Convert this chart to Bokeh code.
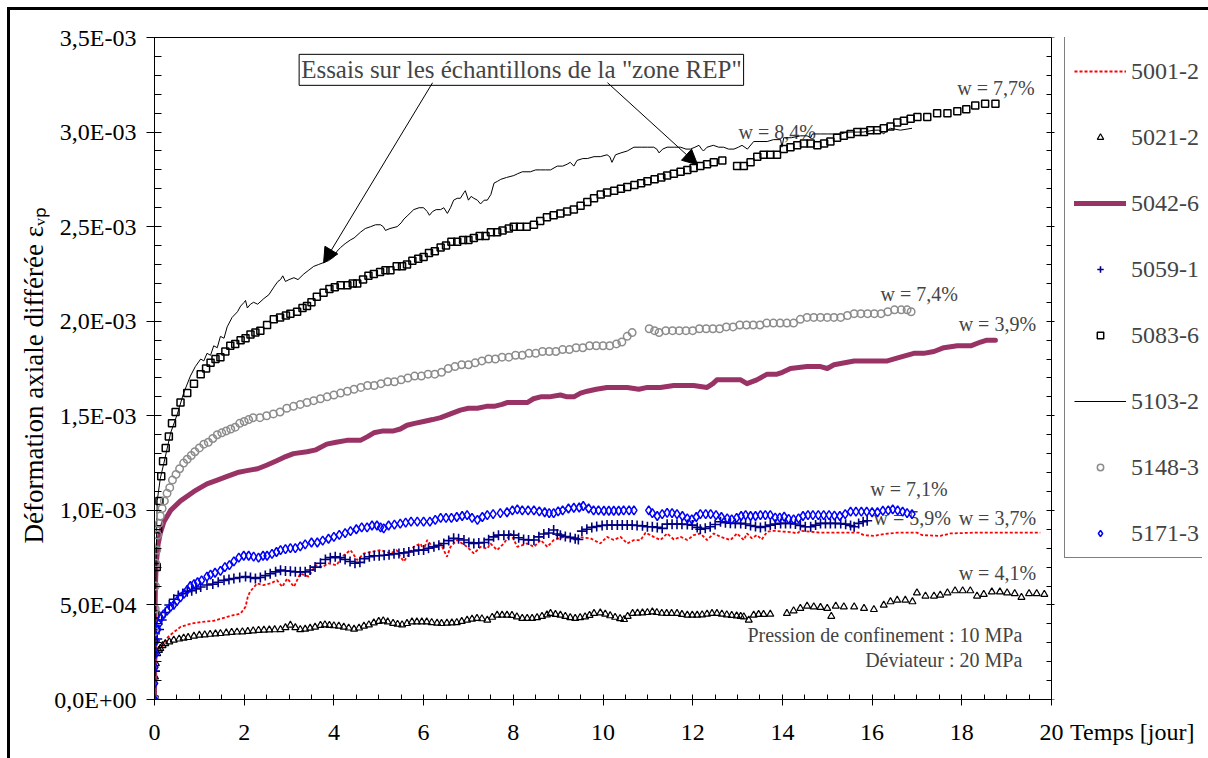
from bokeh.embed import file_html
from bokeh.resources import INLINE
from bokeh.plotting import figure
from bokeh.models import (Range1d, FixedTicker, LinearAxis, CustomJSTickFormatter,
                          Legend, LegendItem, Label, Arrow, NormalHead)

FONT = "Liberation Serif"

# ---- axes -------------------------------------------------------------------
X_TICKS = [0, 2, 4, 6, 8, 10, 12, 14, 16, 18, 20]
X_MINOR = [0.5, 1, 1.5, 2.5, 3, 3.5, 4.5, 5, 5.5, 6.5, 7, 7.5, 8.5, 9, 9.5, 10.5, 11, 11.5,
           12.5, 13, 13.5, 14.5, 15, 15.5, 16.5, 17, 17.5, 18.5, 19, 19.5]
X_TITLE = "Temps [jour]"
X_TITLE_AT = 21.8           # written right of the last tick, on the tick-label line
# strain values are stored in units of 1e-3
Y_TICKS = [0, 0.5, 1.0, 1.5, 2.0, 2.5, 3.0, 3.5]
Y_TICK_LABELS = ["0,0E+00", "5,0E-04", "1,0E-03", "1,5E-03", "2,0E-03", "2,5E-03", "3,0E-03", "3,5E-03"]
Y_MINOR = [0.1, 0.2, 0.3, 0.4, 0.6, 0.7, 0.8, 0.9, 1.1, 1.2, 1.3, 1.4, 1.6, 1.7, 1.8, 1.9,
           2.1, 2.2, 2.3, 2.4, 2.6, 2.7, 2.8, 2.9, 3.1, 3.2, 3.3, 3.4]
Y_TITLE = "Déformation axiale différée   εᵥₚ"

# ---- series: time [day], axial strain [1e-3] --------------------------------
T_5001 = [0, 0.01, 0.03, 0.06, 0.1, 0.17, 0.21, 0.3, 0.43, 0.58, 0.8, 1.03, 1.32, 1.62, 1.92, 2.03,
          2.08, 2.13, 2.29, 2.43, 2.59, 2.73, 2.85, 2.96, 3.11, 3.25, 3.44, 3.59, 3.74, 3.88, 4.06,
          4.18, 4.37, 4.52, 4.67, 4.82, 5.04, 5.26, 5.4, 5.48, 5.56, 5.78, 5.93, 6.0, 6.08, 6.23,
          6.38, 6.52, 6.6, 6.75, 6.97, 7.12, 7.27, 7.42, 7.49, 7.64, 7.79, 7.94, 8.09, 8.31, 8.46,
          8.61, 8.76, 8.9, 9.13, 9.35, 9.5, 9.72, 9.94, 10.09, 10.24, 10.39, 10.54, 10.69, 10.84,
          10.95, 11.13, 11.28, 11.43, 11.58, 11.73, 11.88, 12.02, 12.17, 12.32, 12.47, 12.62, 12.84,
          12.99, 13.14, 13.21, 13.32, 13.43, 13.54, 13.66, 13.81, 14.0, 14.2, 14.33, 14.4, 14.6,
          14.85, 15.3, 15.7, 15.82, 16.04, 16.26, 16.56, 17.0, 17.12, 17.52, 17.75, 18.27, 19.0, 19.75]
E_5001 = [0, 0.12, 0.2, 0.25, 0.27, 0.28, 0.296, 0.33, 0.356, 0.384, 0.4, 0.41, 0.416, 0.437, 0.455,
          0.49, 0.543, 0.57, 0.614, 0.605, 0.614, 0.631, 0.596, 0.64, 0.596, 0.666, 0.65, 0.71, 0.7,
          0.72, 0.71, 0.755, 0.79, 0.737, 0.772, 0.78, 0.79, 0.772, 0.79, 0.755, 0.73, 0.807, 0.825,
          0.79, 0.843, 0.798, 0.825, 0.755, 0.807, 0.843, 0.807, 0.772, 0.807, 0.798, 0.825, 0.79,
          0.825, 0.878, 0.807, 0.825, 0.807, 0.843, 0.807, 0.843, 0.86, 0.852, 0.857, 0.852, 0.825,
          0.86, 0.843, 0.86, 0.825, 0.843, 0.843, 0.882, 0.86, 0.843, 0.878, 0.846, 0.86, 0.843,
          0.869, 0.878, 0.843, 0.878, 0.86, 0.843, 0.878, 0.843, 0.878, 0.852, 0.869, 0.846, 0.887,
          0.892, 0.888, 0.885, 0.878, 0.892, 0.888, 0.882, 0.882, 0.882, 0.869, 0.865, 0.875, 0.882,
          0.882, 0.869, 0.865, 0.878, 0.882, 0.882, 0.882]

T_5021 = [0, 0.01, 0.03, 0.06, 0.1, 0.13, 0.18, 0.24, 0.33, 0.43, 0.55, 0.65, 0.75, 0.88, 1.0, 1.12,
          1.24, 1.36, 1.47, 1.6, 1.72, 1.84, 1.96, 2.08, 2.2, 2.32, 2.44, 2.56, 2.68, 2.81, 2.92, 3.03,
          3.14, 3.25, 3.36, 3.47, 3.58, 3.7, 3.8, 3.9, 4.0, 4.11, 4.22, 4.33, 4.45, 4.56, 4.67, 4.78,
          4.89, 5.0, 5.1, 5.2, 5.32, 5.42, 5.52, 5.63, 5.74, 5.85, 5.96, 6.07, 6.18, 6.3, 6.4, 6.52,
          6.63, 6.74, 6.85, 6.97, 7.08, 7.19, 7.3, 7.42, 7.53, 7.64, 7.75, 7.86, 7.97, 8.08, 8.2, 8.31,
          8.42, 8.53, 8.64, 8.75, 8.83, 8.94, 9.05, 9.16, 9.27, 9.38, 9.49, 9.6, 9.7, 9.8, 9.94, 10.05,
          10.16, 10.27, 10.38, 10.47, 10.55, 10.66, 10.77, 10.88, 10.99, 11.1, 11.2, 11.31, 11.42,
          11.53, 11.65, 11.76, 11.88, 11.99, 12.1, 12.21, 12.32, 12.43, 12.54, 12.65, 12.76, 12.87,
          12.98, 13.07, 13.14, 13.25, 13.36, 13.47, 13.58, 13.73, 14.1, 14.25, 14.4, 14.55, 14.7,
          14.85, 15.0, 15.09, 15.19, 15.37, 15.6, 15.82, 16.04, 16.26, 16.41, 16.56, 16.74, 16.9,
          17.0, 17.19, 17.38, 17.52, 17.68, 17.85, 18.02, 18.19, 18.34, 18.49, 18.67, 18.85, 19.01,
          19.18, 19.33, 19.5, 19.67, 19.84]
E_5021 = [0, 0.12, 0.19, 0.243, 0.26, 0.27, 0.285, 0.296, 0.305, 0.314, 0.32, 0.325, 0.328, 0.335,
          0.34, 0.342, 0.345, 0.347, 0.349, 0.352, 0.355, 0.357, 0.358, 0.36, 0.363, 0.366, 0.367,
          0.368, 0.369, 0.37, 0.38, 0.393, 0.38, 0.37, 0.372, 0.377, 0.383, 0.392, 0.395, 0.392, 0.39,
          0.388, 0.383, 0.378, 0.372, 0.378, 0.388, 0.395, 0.405, 0.413, 0.416, 0.41, 0.403, 0.398,
          0.395, 0.402, 0.41, 0.41, 0.41, 0.41, 0.407, 0.404, 0.402, 0.404, 0.405, 0.407, 0.413, 0.42,
          0.425, 0.429, 0.427, 0.42, 0.435, 0.446, 0.446, 0.446, 0.445, 0.437, 0.429, 0.429, 0.429,
          0.433, 0.44, 0.447, 0.455, 0.45, 0.446, 0.44, 0.433, 0.429, 0.433, 0.437, 0.445, 0.455,
          0.458, 0.452, 0.443, 0.435, 0.428, 0.423, 0.44, 0.455, 0.457, 0.458, 0.46, 0.463, 0.46,
          0.456, 0.455, 0.455, 0.455, 0.45, 0.446, 0.446, 0.446, 0.448, 0.452, 0.455, 0.455, 0.452,
          0.448, 0.445, 0.442, 0.44, 0.437, 0.42, 0.446, 0.45, 0.45, 0.451, 0.455, 0.469, 0.482,
          0.494, 0.49, 0.487, 0.482, 0.44, 0.494, 0.49, 0.49, 0.482, 0.476, 0.499, 0.517, 0.525,
          0.525, 0.517, 0.564, 0.547, 0.547, 0.552, 0.564, 0.575, 0.575, 0.575, 0.547, 0.556, 0.569,
          0.569, 0.564, 0.56, 0.54, 0.56, 0.56, 0.556]

T_5042 = [0, 0.01, 0.02, 0.04, 0.08, 0.13, 0.21, 0.36, 0.58, 0.88, 1.17, 1.4, 1.62, 1.85, 2.06, 2.3,
          2.51, 2.7, 2.88, 3.1, 3.4, 3.6, 3.84, 4.05, 4.29, 4.59, 4.75, 4.89, 5.1, 5.33, 5.48, 5.63,
          5.8, 6.0, 6.2, 6.38, 6.6, 6.82, 7.0, 7.2, 7.4, 7.57, 7.75, 7.86, 8.1, 8.31, 8.45, 8.61, 8.8,
          9.05, 9.2, 9.35, 9.5, 9.65, 9.85, 10.09, 10.3, 10.54, 10.8, 10.99, 11.28, 11.58, 12.02,
          12.32, 12.45, 12.54, 12.92, 13.07, 13.21, 13.43, 13.66, 13.88, 14.0, 14.18, 14.55, 14.85,
          15.0, 15.15, 15.6, 16.04, 16.34, 16.63, 16.93, 17.15, 17.38, 17.6, 17.9, 18.2, 18.42, 18.56,
          18.75]
E_5042 = [0, 0.4, 0.6, 0.72, 0.82, 0.88, 0.94, 1.0, 1.05, 1.1, 1.14, 1.16, 1.18, 1.2, 1.21, 1.22,
          1.24, 1.26, 1.28, 1.3, 1.31, 1.32, 1.35, 1.36, 1.37, 1.37, 1.39, 1.41, 1.42, 1.42, 1.43,
          1.45, 1.46, 1.47, 1.48, 1.49, 1.51, 1.53, 1.54, 1.54, 1.55, 1.55, 1.56, 1.57, 1.57, 1.57,
          1.59, 1.6, 1.6, 1.61, 1.6, 1.6, 1.62, 1.63, 1.64, 1.65, 1.65, 1.65, 1.64, 1.65, 1.65, 1.66,
          1.66, 1.65, 1.67, 1.69, 1.69, 1.69, 1.67, 1.69, 1.72, 1.72, 1.73, 1.75, 1.76, 1.76, 1.75,
          1.77, 1.79, 1.79, 1.79, 1.81, 1.83, 1.83, 1.84, 1.86, 1.87, 1.87, 1.89, 1.9, 1.9]

T_5059 = [0, 0.01, 0.03, 0.06, 0.1, 0.16, 0.24, 0.33, 0.43, 0.53, 0.63, 0.73, 0.83, 0.93, 1.03, 1.17,
          1.3, 1.42, 1.55, 1.66, 1.77, 1.9, 2.03, 2.14, 2.25, 2.36, 2.47, 2.58, 2.7, 2.81, 2.92, 3.03,
          3.14, 3.25, 3.36, 3.47, 3.58, 3.7, 3.81, 3.92, 4.03, 4.14, 4.25, 4.36, 4.47, 4.58, 4.68,
          4.79, 4.9, 5.01, 5.12, 5.23, 5.34, 5.45, 5.56, 5.67, 5.78, 5.89, 6.0, 6.11, 6.23, 6.34,
          6.45, 6.56, 6.67, 6.78, 6.9, 7.01, 7.12, 7.23, 7.35, 7.45, 7.56, 7.67, 7.79, 7.9, 8.01,
          8.12, 8.23, 8.34, 8.46, 8.57, 8.68, 8.79, 8.9, 8.98, 9.05, 9.16, 9.27, 9.38, 9.45, 9.53,
          9.64, 9.75, 9.86, 9.98, 10.09, 10.2, 10.32, 10.43, 10.54, 10.65, 10.76, 10.88, 10.99, 11.1,
          11.21, 11.32, 11.43, 11.54, 11.65, 11.76, 11.88, 11.99, 12.1, 12.17, 12.28, 12.39, 12.5,
          12.62, 12.73, 12.84, 12.95, 13.07, 13.18, 13.29, 13.4, 13.51, 13.62, 13.73, 13.84, 13.96,
          14.07, 14.18, 14.29, 14.4, 14.51, 14.63, 14.74, 14.85, 14.96, 15.07, 15.18, 15.3, 15.41,
          15.52, 15.6, 15.7, 15.8, 15.89]
E_5059 = [0, 0.15, 0.25, 0.32, 0.37, 0.42, 0.46, 0.5, 0.53, 0.55, 0.56, 0.57, 0.575, 0.585, 0.595,
          0.605, 0.61, 0.62, 0.63, 0.635, 0.64, 0.645, 0.65, 0.645, 0.64, 0.645, 0.655, 0.665, 0.675,
          0.684, 0.68, 0.678, 0.675, 0.675, 0.675, 0.685, 0.7, 0.72, 0.74, 0.75, 0.755, 0.75, 0.74,
          0.73, 0.72, 0.725, 0.745, 0.755, 0.76, 0.76, 0.763, 0.765, 0.77, 0.772, 0.775, 0.78, 0.785,
          0.79, 0.79, 0.8, 0.807, 0.815, 0.825, 0.84, 0.852, 0.85, 0.843, 0.83, 0.825, 0.828, 0.83,
          0.845, 0.86, 0.869, 0.869, 0.869, 0.869, 0.855, 0.846, 0.843, 0.843, 0.86, 0.875, 0.88,
          0.896, 0.875, 0.869, 0.862, 0.857, 0.85, 0.846, 0.89, 0.9, 0.91, 0.915, 0.92, 0.922, 0.922,
          0.922, 0.922, 0.922, 0.922, 0.92, 0.918, 0.913, 0.913, 0.91, 0.905, 0.927, 0.927, 0.927,
          0.927, 0.925, 0.922, 0.91, 0.9, 0.905, 0.913, 0.925, 0.94, 0.935, 0.932, 0.931, 0.931,
          0.928, 0.92, 0.915, 0.91, 0.915, 0.922, 0.927, 0.931, 0.931, 0.931, 0.928, 0.92, 0.913,
          0.913, 0.922, 0.931, 0.931, 0.931, 0.931, 0.93, 0.927, 0.92, 0.913, 0.931, 0.94, 0.945]

T_5083 = [0, 0.02, 0.05, 0.08, 0.11, 0.15, 0.19, 0.25, 0.32, 0.39, 0.47, 0.58, 0.73, 0.88, 1.03, 1.15,
          1.25, 1.36, 1.47, 1.58, 1.69, 1.8, 1.92, 2.03, 2.14, 2.25, 2.36, 2.51, 2.66, 2.8, 2.93,
          3.03, 3.18, 3.3, 3.4, 3.5, 3.62, 3.77, 3.9, 4.02, 4.15, 4.3, 4.42, 4.52, 4.65, 4.77, 4.89,
          5.03, 5.15, 5.26, 5.4, 5.52, 5.63, 5.75, 5.88, 6.0, 6.12, 6.25, 6.38, 6.5, 6.62, 6.75, 6.88,
          7.0, 7.12, 7.25, 7.38, 7.5, 7.64, 7.76, 7.9, 8.01, 8.15, 8.3, 8.46, 8.6, 8.75, 8.9, 9.05,
          9.2, 9.35, 9.5, 9.65, 9.8, 9.95, 10.09, 10.25, 10.4, 10.54, 10.7, 10.85, 10.99, 11.15, 11.3,
          11.43, 11.58, 11.73, 11.88, 12.02, 12.17, 12.32, 12.47, 12.66, 12.99, 13.14, 13.29, 13.44,
          13.58, 13.73, 13.88, 14.03, 14.18, 14.33, 14.48, 14.63, 14.78, 14.93, 15.07, 15.22, 15.37,
          15.52, 15.67, 15.82, 15.96, 16.11, 16.26, 16.41, 16.56, 16.71, 16.86, 17.01, 17.23, 17.45,
          17.68, 17.9, 18.1, 18.3, 18.52, 18.75]
E_5083 = [0, 0.45, 0.7, 0.9, 1.05, 1.18, 1.26, 1.33, 1.39, 1.46, 1.52, 1.57, 1.62, 1.67, 1.72, 1.75,
          1.78, 1.8, 1.81, 1.84, 1.87, 1.88, 1.9, 1.91, 1.93, 1.94, 1.95, 1.98, 2.01, 2.02, 2.03,
          2.04, 2.05, 2.07, 2.08, 2.1, 2.13, 2.15, 2.17, 2.18, 2.19, 2.19, 2.2, 2.2, 2.22, 2.24, 2.25,
          2.26, 2.27, 2.27, 2.29, 2.29, 2.3, 2.32, 2.33, 2.34, 2.36, 2.37, 2.39, 2.4, 2.42, 2.42,
          2.43, 2.43, 2.44, 2.45, 2.45, 2.47, 2.47, 2.48, 2.49, 2.5, 2.5, 2.5, 2.51, 2.53, 2.55, 2.56,
          2.57, 2.58, 2.59, 2.61, 2.63, 2.65, 2.67, 2.68, 2.69, 2.7, 2.71, 2.72, 2.73, 2.74, 2.75,
          2.76, 2.77, 2.78, 2.79, 2.8, 2.81, 2.82, 2.83, 2.84, 2.85, 2.82, 2.82, 2.84, 2.87, 2.88,
          2.88, 2.88, 2.91, 2.92, 2.93, 2.94, 2.94, 2.93, 2.94, 2.95, 2.97, 2.98, 2.99, 3.0, 3.0,
          3.01, 3.01, 3.02, 3.03, 3.05, 3.06, 3.07, 3.08, 3.08, 3.1, 3.1, 3.11, 3.12, 3.14, 3.15, 3.15]

T_5103 = [0, 0.02, 0.06, 0.13, 0.21, 0.36, 0.51, 0.65, 0.8, 0.91, 1.03, 1.1, 1.17, 1.25, 1.32, 1.4,
          1.47, 1.55, 1.62, 1.73, 1.85, 1.92, 2.0, 2.03, 2.07, 2.14, 2.21, 2.3, 2.44, 2.55, 2.66,
          2.75, 2.81, 2.86, 2.92, 3.0, 3.11, 3.2, 3.33, 3.44, 3.55, 3.66, 3.77, 3.88, 4.0, 4.07, 4.15,
          4.25, 4.37, 4.45, 4.59, 4.7, 4.82, 4.93, 5.04, 5.1, 5.15, 5.25, 5.41, 5.5, 5.56, 5.65, 5.78,
          5.9, 6.0, 6.08, 6.13, 6.2, 6.28, 6.38, 6.45, 6.53, 6.6, 6.67, 6.75, 6.82, 6.9, 6.93, 7.0,
          7.06, 7.12, 7.2, 7.27, 7.35, 7.42, 7.5, 7.57, 7.65, 7.72, 7.85, 8.01, 8.1, 8.2, 8.38, 8.5,
          8.61, 8.72, 8.83, 8.98, 9.1, 9.2, 9.27, 9.35, 9.42, 9.55, 9.65, 9.8, 9.94, 10.09, 10.15,
          10.2, 10.28, 10.4, 10.54, 10.69, 10.85, 10.99, 11.13, 11.2, 11.25, 11.33, 11.43, 11.6,
          11.73, 11.85, 11.95, 12.05, 12.14, 12.2, 12.24, 12.32, 12.46, 12.58, 12.69, 12.8, 12.92,
          13.02, 13.1, 13.22, 13.36, 13.5, 13.66, 13.8, 13.96, 13.99, 14.03, 14.2, 14.4, 14.55,
          14.63, 14.67, 14.85, 15.0, 15.15, 15.3, 15.45, 15.6, 15.8, 16.04, 16.15, 16.26, 16.33,
          16.41, 16.63, 16.89]
E_5103 = [0, 0.5, 1.05, 1.17, 1.25, 1.41, 1.51, 1.62, 1.71, 1.76, 1.8, 1.79, 1.83, 1.82, 1.87, 1.86,
          1.92, 1.91, 1.97, 2.02, 2.05, 2.08, 2.1, 2.11, 2.07, 2.09, 2.1, 2.09, 2.12, 2.14, 2.18,
          2.21, 2.22, 2.24, 2.21, 2.22, 2.23, 2.22, 2.25, 2.27, 2.29, 2.3, 2.31, 2.32, 2.34, 2.37,
          2.39, 2.41, 2.43, 2.44, 2.47, 2.49, 2.5, 2.51, 2.51, 2.5, 2.48, 2.49, 2.5, 2.52, 2.54, 2.56,
          2.59, 2.6, 2.6, 2.58, 2.56, 2.58, 2.59, 2.59, 2.6, 2.57, 2.6, 2.64, 2.65, 2.65, 2.68, 2.69,
          2.64, 2.66, 2.65, 2.64, 2.62, 2.64, 2.64, 2.67, 2.73, 2.74, 2.75, 2.76, 2.77, 2.78, 2.79,
          2.79, 2.8, 2.8, 2.8, 2.8, 2.82, 2.82, 2.83, 2.84, 2.82, 2.85, 2.86, 2.86, 2.87, 2.87, 2.88,
          2.87, 2.84, 2.88, 2.89, 2.9, 2.92, 2.92, 2.92, 2.92, 2.91, 2.89, 2.91, 2.92, 2.92, 2.92,
          2.91, 2.91, 2.92, 2.93, 2.91, 2.9, 2.92, 2.93, 2.92, 2.92, 2.91, 2.91, 2.92, 2.93, 2.91,
          2.95, 2.95, 2.95, 2.96, 2.96, 2.92, 2.97, 2.97, 2.98, 2.98, 2.97, 2.99, 2.99, 2.99, 2.99,
          2.99, 3.0, 3.0, 3.0, 3.01, 3.01, 2.99, 3.01, 3.02, 3.01, 3.02]

T_5148 = [0, 0.01, 0.015, 0.02, 0.03, 0.05, 0.07, 0.1, 0.13, 0.17, 0.22, 0.28, 0.34, 0.4, 0.48, 0.56,
          0.65, 0.73, 0.82, 0.9, 1.0, 1.1, 1.2, 1.3, 1.4, 1.5, 1.6, 1.7, 1.8, 1.9, 2.0, 2.1, 2.2,
          2.35, 2.5, 2.65, 2.8, 2.95, 3.1, 3.25, 3.4, 3.55, 3.7, 3.85, 4.0, 4.15, 4.3, 4.45, 4.6,
          4.75, 4.9, 5.05, 5.2, 5.35, 5.5, 5.65, 5.8, 5.95, 6.1, 6.25, 6.4, 6.55, 6.7, 6.85, 7.0,
          7.15, 7.3, 7.45, 7.6, 7.75, 7.9, 8.05, 8.2, 8.35, 8.5, 8.65, 8.8, 8.95, 9.1, 9.25, 9.4,
          9.55, 9.7, 9.85, 10.0, 10.15, 10.3, 10.42, 10.54, 10.65, 11.03, 11.15, 11.25, 11.4, 11.55,
          11.7, 11.85, 12.0, 12.15, 12.3, 12.45, 12.6, 12.75, 12.9, 13.05, 13.2, 13.35, 13.5, 13.65,
          13.8, 13.95, 14.1, 14.25, 14.4, 14.55, 14.7, 14.85, 15.0, 15.15, 15.3, 15.45, 15.6, 15.75,
          15.9, 16.05, 16.2, 16.35, 16.5, 16.65, 16.78, 16.87]
E_5148 = [0, 0.36, 0.48, 0.6, 0.72, 0.79, 0.87, 0.93, 0.97, 1.01, 1.05, 1.09, 1.12, 1.16, 1.19, 1.22,
          1.25, 1.27, 1.29, 1.31, 1.33, 1.35, 1.36, 1.38, 1.4, 1.41, 1.42, 1.43, 1.44, 1.46, 1.47,
          1.48, 1.49, 1.49, 1.5, 1.51, 1.52, 1.54, 1.55, 1.56, 1.57, 1.58, 1.59, 1.6, 1.61, 1.62,
          1.63, 1.64, 1.65, 1.66, 1.66, 1.67, 1.68, 1.68, 1.69, 1.7, 1.71, 1.71, 1.72, 1.72, 1.73,
          1.75, 1.76, 1.77, 1.77, 1.78, 1.79, 1.8, 1.8, 1.81, 1.81, 1.82, 1.82, 1.83, 1.83, 1.84,
          1.84, 1.84, 1.85, 1.85, 1.86, 1.86, 1.87, 1.87, 1.87, 1.87, 1.88, 1.89, 1.92, 1.94, 1.96,
          1.95, 1.94, 1.95, 1.95, 1.95, 1.95, 1.95, 1.96, 1.96, 1.96, 1.96, 1.97, 1.97, 1.98, 1.98,
          1.98, 1.98, 1.99, 1.99, 1.99, 1.99, 1.99, 2.01, 2.02, 2.02, 2.02, 2.02, 2.02, 2.02, 2.03,
          2.04, 2.04, 2.04, 2.04, 2.04, 2.05, 2.06, 2.06, 2.06, 2.05]

T_5171 = [0, 0.005, 0.01, 0.02, 0.04, 0.07, 0.1, 0.14, 0.2, 0.28, 0.36, 0.43, 0.5, 0.58, 0.66, 0.73,
          0.8, 0.88, 0.96, 1.05, 1.17, 1.25, 1.35, 1.47, 1.57, 1.67, 1.77, 1.88, 1.99, 2.1, 2.21,
          2.32, 2.42, 2.51, 2.62, 2.72, 2.81, 2.92, 3.03, 3.14, 3.25, 3.36, 3.5, 3.63, 3.75, 3.88,
          4.0, 4.12, 4.25, 4.37, 4.5, 4.62, 4.74, 4.85, 4.96, 5.04, 5.11, 5.22, 5.35, 5.48, 5.6,
          5.72, 5.86, 6.0, 6.14, 6.26, 6.38, 6.5, 6.62, 6.74, 6.86, 6.97, 7.08, 7.2, 7.31, 7.42,
          7.55, 7.71, 7.86, 7.98, 8.09, 8.2, 8.33, 8.46, 8.58, 8.7, 8.8, 8.9, 9.0, 9.1, 9.23, 9.35,
          9.47, 9.56, 9.68, 9.79, 9.9, 10.02, 10.13, 10.24, 10.35, 10.46, 10.58, 10.69, 11.02, 11.1,
          11.21, 11.32, 11.43, 11.54, 11.65, 11.77, 11.88, 11.98, 12.08, 12.17, 12.29, 12.4, 12.52,
          12.64, 12.77, 12.87, 12.98, 13.08, 13.18, 13.29, 13.4, 13.51, 13.62, 13.73, 13.84, 13.94,
          14.04, 14.14, 14.25, 14.36, 14.46, 14.57, 14.68, 14.8, 14.92, 15.04, 15.16, 15.28, 15.4,
          15.52, 15.64, 15.76, 15.88, 16.0, 16.12, 16.24, 16.36, 16.46, 16.57, 16.68, 16.78, 16.89]
E_5171 = [0, 0.085, 0.17, 0.24, 0.31, 0.37, 0.4, 0.43, 0.45, 0.47, 0.49, 0.5, 0.52, 0.54, 0.56, 0.58,
          0.6, 0.61, 0.62, 0.63, 0.65, 0.66, 0.67, 0.68, 0.7, 0.71, 0.73, 0.75, 0.76, 0.76, 0.755,
          0.75, 0.76, 0.76, 0.77, 0.78, 0.79, 0.795, 0.8, 0.8, 0.81, 0.82, 0.83, 0.83, 0.84, 0.85,
          0.86, 0.87, 0.88, 0.89, 0.9, 0.91, 0.91, 0.92, 0.92, 0.91, 0.905, 0.92, 0.925, 0.93, 0.935,
          0.94, 0.94, 0.94, 0.94, 0.95, 0.96, 0.96, 0.96, 0.965, 0.97, 0.975, 0.96, 0.95, 0.965,
          0.975, 0.98, 0.985, 0.99, 1.0, 1.005, 1.0, 1.0, 1.0, 0.995, 0.99, 0.985, 0.985, 0.995, 1.0,
          1.01, 1.014, 1.015, 1.023, 1.01, 1.0, 1.0, 0.998, 0.998, 0.998, 0.998, 1.0, 1.0, 1.0, 1.0,
          0.985, 0.97, 0.98, 0.987, 0.985, 0.98, 0.97, 0.958, 0.952, 0.965, 0.98, 0.98, 0.98, 0.975,
          0.965, 0.958, 0.952, 0.96, 0.97, 0.975, 0.97, 0.97, 0.975, 0.975, 0.975, 0.962, 0.962,
          0.966, 0.955, 0.952, 0.958, 0.97, 0.975, 0.975, 0.975, 0.975, 0.975, 0.972, 0.97, 0.98,
          0.993, 0.993, 0.993, 0.993, 0.99, 0.99, 0.998, 1.0, 1.005, 1.0, 0.993, 0.985, 0.98]

# ---- annotations ------------------------------------------------------------
W_LABELS = ["w = 7,7%", "w = 8,4%", "w = 7,4%", "w = 3,9%", "w = 7,1%", "w = 5,9%", "w = 3,7%", "w = 4,1%"]
W_X = [17.90, 13.02, 16.19, 17.93, 15.96, 16.03, 17.93, 17.93]
W_Y = [3.234, 3.0, 2.145, 1.986, 1.113, 0.959, 0.959, 0.668]

# ---- layout in pixels -------------------------------------------------------
WIDTH, HEIGHT = 1208, 758
LEFT, RIGHT_BORDER, TOP, BOTTOM = 154, 6, 37, 59
PX_PER_DAY = 44.85
# the frame also hosts the legend to the right of day 20, so the x range runs past it
X_END = (WIDTH - RIGHT_BORDER - LEFT) / PX_PER_DAY

# the page's outer frame (left and top edges) is painted as the plot element's CSS background
FRAME_CSS = ("linear-gradient(#000, #000) 7px 7px / 3px 100% no-repeat, "
             "linear-gradient(#000, #000) 7px 7px / 100% 3px no-repeat, #fff")

p = figure(width=WIDTH, height=HEIGHT, output_backend="svg", toolbar_location=None,
           x_range=Range1d(0, X_END), y_range=Range1d(0, 3.5),
           min_border_left=LEFT, min_border_right=RIGHT_BORDER,
           min_border_top=TOP, min_border_bottom=BOTTOM,
           background_fill_color="white", border_fill_color=None,
           styles={"background": FRAME_CSS})
p.grid.visible = False
p.outline_line_color = None

empty_fmt = CustomJSTickFormatter(code="return '';")

# bottom axis, next to the frame: axis line and tick marks over 0..20
xa = p.xaxis[0]
xa.bounds = (0, 20)
xa.ticker = FixedTicker(ticks=X_TICKS, minor_ticks=X_MINOR)
xa.formatter = empty_fmt
xa.major_label_text_font_size = "1px"
xa.major_label_standoff = 0
xa.major_tick_in = 5
xa.major_tick_out = 6
xa.minor_tick_in = 5
xa.minor_tick_out = 0
xa.axis_line_color = "black"
xa.major_tick_line_color = "black"
xa.minor_tick_line_color = "black"

# second bottom axis: the tick labels plus the axis title on the same line
x_fmt = CustomJSTickFormatter(args=dict(title=X_TITLE, title_at=X_TITLE_AT), code="""
    if (Math.abs(tick - title_at) < 1e-9) return title;
    return String(Math.round(tick));
""")
xl = LinearAxis(ticker=FixedTicker(ticks=X_TICKS + [X_TITLE_AT], minor_ticks=[]),
                formatter=x_fmt, bounds=(0, X_TITLE_AT),
                axis_line_color=None, major_tick_line_color=None, minor_tick_line_color=None,
                major_tick_in=0, major_tick_out=0, minor_tick_in=0, minor_tick_out=0,
                major_label_standoff=13, major_label_text_font=FONT,
                major_label_text_font_size="24px", major_label_text_color="black")
p.add_layout(xl, "below")

# top edge of the plot box
xt = LinearAxis(ticker=FixedTicker(ticks=[], minor_ticks=[]), formatter=empty_fmt, bounds=(0, 20),
                major_tick_in=0, major_tick_out=0, minor_tick_in=0, minor_tick_out=0,
                major_label_standoff=0, major_label_text_font_size="1px", axis_line_color="black")
p.add_layout(xt, "above")

# left axis
y_fmt = CustomJSTickFormatter(args=dict(tick_values=Y_TICKS, tick_labels=Y_TICK_LABELS), code="""
    for (let i = 0; i < tick_values.length; i++) {
        if (Math.abs(tick_values[i] - tick) < 1e-9) return tick_labels[i];
    }
    return "";
""")
ya = p.yaxis[0]
ya.ticker = FixedTicker(ticks=Y_TICKS, minor_ticks=Y_MINOR)
ya.formatter = y_fmt
ya.major_tick_in = 7
ya.major_tick_out = 8
ya.minor_tick_in = 7
ya.minor_tick_out = 0
ya.major_label_standoff = 10
ya.major_label_text_font = FONT
ya.major_label_text_font_size = "24px"
ya.major_label_text_color = "black"
ya.axis_line_color = "black"
ya.axis_label = Y_TITLE
ya.axis_label_text_font = FONT
ya.axis_label_text_font_size = "27px"
ya.axis_label_text_font_style = "normal"
ya.axis_label_text_color = "black"
ya.axis_label_standoff = 2

# right edge of the plot box at day 20, ticks pointing inwards
ra = LinearAxis(ticker=FixedTicker(ticks=Y_TICKS, minor_ticks=Y_MINOR), formatter=empty_fmt,
                fixed_location=20,
                major_tick_in=5, major_tick_out=3, minor_tick_in=5, minor_tick_out=0,
                major_label_standoff=0, major_label_text_font_size="1px", axis_line_color="black")
p.add_layout(ra, "right")

# ---- series -----------------------------------------------------------------
r5001 = p.line(T_5001, E_5001, line_color="#FF0000", line_width=1.8, line_dash="3 2")
r5021 = p.scatter(T_5021, E_5021, marker="triangle", size=7, line_color="black",
                  fill_color=None, line_width=1.2)
r5042 = p.line(T_5042, E_5042, line_color="#993366", line_width=5, line_join="round", line_cap="round")
r5059 = p.scatter(T_5059, E_5059, marker="cross", size=10, line_color="#000080", line_width=1.6)
r5083 = p.scatter(T_5083, E_5083, marker="square", size=7, line_color="black",
                  fill_color=None, line_width=1.5)
r5103 = p.line(T_5103, E_5103, line_color="black", line_width=1)
r5148 = p.scatter(T_5148, E_5148, marker="circle", size=7.5, line_color="#8C8C8C",
                  fill_color=None, line_width=1.5)
r5171 = p.scatter(T_5171, E_5171, marker="diamond", size=9, line_color="#0000FF",
                  fill_color=None, line_width=1.5)

# ---- legend: right of day 20, top aligned with the plot box ----------------
legend = Legend(items=[
    LegendItem(label="5001-2", renderers=[r5001]),
    LegendItem(label="5021-2", renderers=[r5021]),
    LegendItem(label="5042-6", renderers=[r5042]),
    LegendItem(label="5059-1", renderers=[r5059]),
    LegendItem(label="5083-6", renderers=[r5083]),
    LegendItem(label="5103-2", renderers=[r5103]),
    LegendItem(label="5148-3", renderers=[r5148]),
    LegendItem(label="5171-3", renderers=[r5171]),
], location=(1064 - LEFT, 141))
legend.label_text_font = FONT
legend.label_text_font_size = "24px"
legend.glyph_width = 52
legend.glyph_height = 16
legend.label_height = 30
legend.label_standoff = 5
legend.spacing = 36
legend.padding = 9
legend.title = " "
legend.title_text_font_size = "1px"
legend.title_standoff = 11
legend.border_line_color = "black"
legend.border_line_width = 1.5
legend.background_fill_color = "white"
legend.background_fill_alpha = 1
p.add_layout(legend)

# ---- texts ------------------------------------------------------------------
for txt, x, y in zip(W_LABELS, W_X, W_Y):
    p.add_layout(Label(x=x, y=y, text=txt, text_font=FONT, text_font_size="20px",
                       text_align="left", text_baseline="middle", level="underlay"))

p.add_layout(Label(x=19.35, y=0.342, text="Pression de confinement : 10 MPa", text_font=FONT,
                   text_font_size="20px", text_align="right", text_baseline="middle"))
p.add_layout(Label(x=19.35, y=0.209, text="Déviateur : 20 MPa", text_font=FONT,
                   text_font_size="20px", text_align="right", text_baseline="middle"))

p.add_layout(Label(x=8.18, y=3.329, text='Essais sur les échantillons de la "zone REP"',
                   text_font=FONT, text_font_size="25px", text_align="center",
                   text_baseline="middle", border_line_color="black", border_line_width=1,
                   background_fill_color="white", padding=2))

p.add_layout(Arrow(end=NormalHead(size=15, fill_color="black", line_color="black"),
                   x_start=6.2, y_start=3.261, x_end=3.77, y_end=2.308, line_width=1))
p.add_layout(Arrow(end=NormalHead(size=15, fill_color="black", line_color="black"),
                   x_start=10.1, y_start=3.261, x_end=12.11, y_end=2.827, line_width=1))

open("out.html", "w").write(file_html(p, INLINE))
